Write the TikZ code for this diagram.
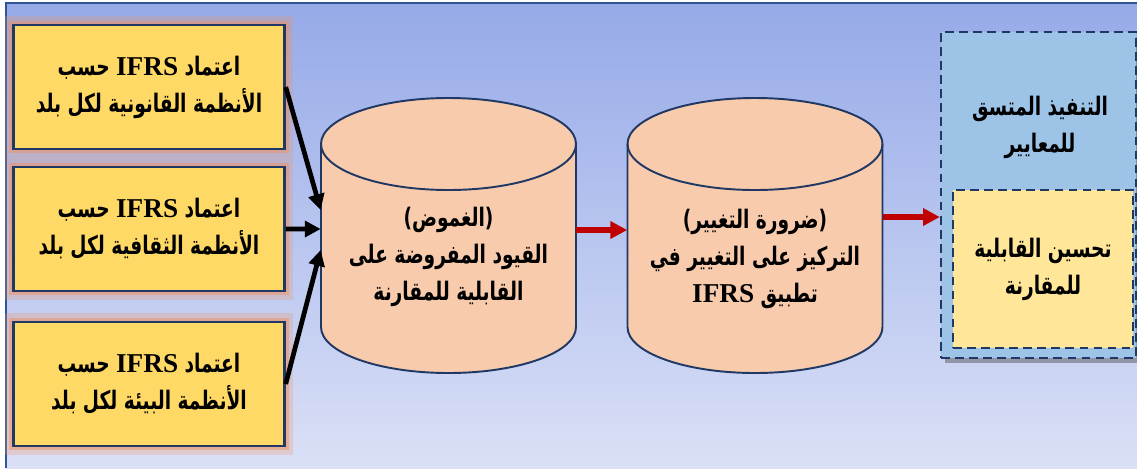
\documentclass[tikz,border=0pt]{standalone}
\usepackage{fontspec}
\setmainfont{Liberation Serif}
\newfontfamily\arabicfont[Script=Arabic,FakeStretch=0.73]{DejaVu Sans}
\newfontfamily\latinfont{Liberation Serif}
\TeXXeTstate=1
\usepackage{xcolor}
\usepackage{tikz}
\usetikzlibrary{arrows.meta}
\usetikzlibrary{shadows}

\definecolor{bgtop}{RGB}{150,170,232}
\definecolor{bgbot}{RGB}{218,224,246}
\definecolor{framecol}{RGB}{47,85,151}
\definecolor{navy}{RGB}{31,56,100}
\definecolor{gold}{RGB}{255,217,102}
\definecolor{glow}{RGB}{240,145,95}
\definecolor{cylfill}{RGB}{248,203,173}
\definecolor{skyfill}{RGB}{157,195,230}
\definecolor{paleyel}{RGB}{255,230,153}
\definecolor{darkred}{RGB}{192,0,0}

\newcommand{\rtl}[1]{\beginR #1\endR}
\newcommand{\ifrs}{\beginL{\latinfont\fontsize{15.5}{21}\selectfont IFRS}\endL}

\begin{document}
\begin{tikzpicture}[x=0.02cm,y=-0.02cm]
	\useasboundingbox (0,0) rectangle (1137,468);
	\shade[top color=bgtop, bottom color=bgbot] (6,3) rectangle (1137,468);
	\draw[framecol, line width=1.5pt] (6,468) -- (6,3) -- (1137,3);
	% cylinders
	\foreach \cx in {448.5,755} {
		\path[draw=navy, fill=cylfill, line width=1.1pt] (\cx-127.5,144) -- (\cx-127.5,327)
			arc[start angle=180, end angle=0, x radius=127.5, y radius=46] -- (\cx+127.5,144)
			arc[start angle=0, end angle=-180, x radius=127.5, y radius=46] -- cycle;
		\draw[navy, line width=1.1pt] (\cx-127.5,144) arc[start angle=180, end angle=0, x radius=127.5, y radius=46];
	}
	\tikzstyle{every node}=[font=\arabicfont\bfseries\fontsize{14.5}{21}\selectfont, align=center, inner sep=0pt];
	\tikzstyle{srcbox}=[draw=navy, line width=1.4pt, fill=gold, minimum width=5.42cm, minimum height=2.48cm,
		preaction={draw=glow, line width=10pt, opacity=0.25}, preaction={draw=glow, line width=5pt, opacity=0.5}];
	\tikzstyle{cyltext}=[minimum width=5.1cm];
	\tikzstyle{implbox}=[draw=navy, line width=1.4pt, dash pattern=on 5pt off 3pt, fill=skyfill, minimum width=3.9cm, minimum height=6.52cm,
		drop shadow={shadow xshift=2pt, shadow yshift=-3pt, opacity=0.45, fill=black!70}];
	\tikzstyle{cmpbox}=[draw=navy, line width=1.4pt, dash pattern=on 5pt off 3pt, fill=paleyel, minimum width=3.6cm, minimum height=3.16cm];
	\node[srcbox] (b1) at (149,87) {\rtl{اعتماد \ifrs{} حسب}\\ \rtl{الأنظمة القانونية لكل بلد}};
	\node[srcbox] (b2) at (149,229) {\rtl{اعتماد \ifrs{} حسب}\\ \rtl{الأنظمة الثقافية لكل بلد}};
	\node[srcbox] (b3) at (149,384) {\rtl{اعتماد \ifrs{} حسب}\\ \rtl{الأنظمة البيئة لكل بلد}};
	\node[cyltext] (c1) at (448.5,257) {\rtl{(الغموض)}\\ \rtl{القيود المفروضة على}\\ \rtl{القابلية للمقارنة}};
	\node[cyltext] (c2) at (755,259) {\rtl{(ضرورة التغيير)}\\ \rtl{التركيز على التغيير في}\\ \rtl{تطبيق \ifrs}};
	\node[implbox] (impl) at (1038.5,195) {};
	\node (impltxt) at (1040,127) {\rtl{التنفيذ المتسق}\\ \rtl{للمعايير}};
	\node[cmpbox] (cmp) at (1043,269) {\rtl{تحسين القابلية}\\ \rtl{للمقارنة}};
	\draw[line width=2.7pt, -{Triangle[length=9pt,width=9pt]}]
		(b1.east) -- ([yshift=0.94cm]c1.west);
	\draw[line width=2.7pt, -{Triangle[length=9pt,width=9pt]}]
		(b2.east) -- ([yshift=0.56cm]c1.west);
	\draw[line width=2.7pt, -{Triangle[length=9pt,width=9pt]}]
		(b3.east) -- ([yshift=0.14cm]c1.west);
	\draw[darkred, line width=3.2pt, -{Triangle[length=9.5pt,width=9.5pt]}]
		([yshift=0.54cm]c1.east) -- ([yshift=0.54cm]c1.east -| c2.west);
	\draw[darkred, line width=3.2pt, -{Triangle[length=9.5pt,width=9.5pt]}]
		([yshift=0.84cm]c2.east) -- ([yshift=0.84cm]c2.east -| impl.west);
\end{tikzpicture}
\end{document}
